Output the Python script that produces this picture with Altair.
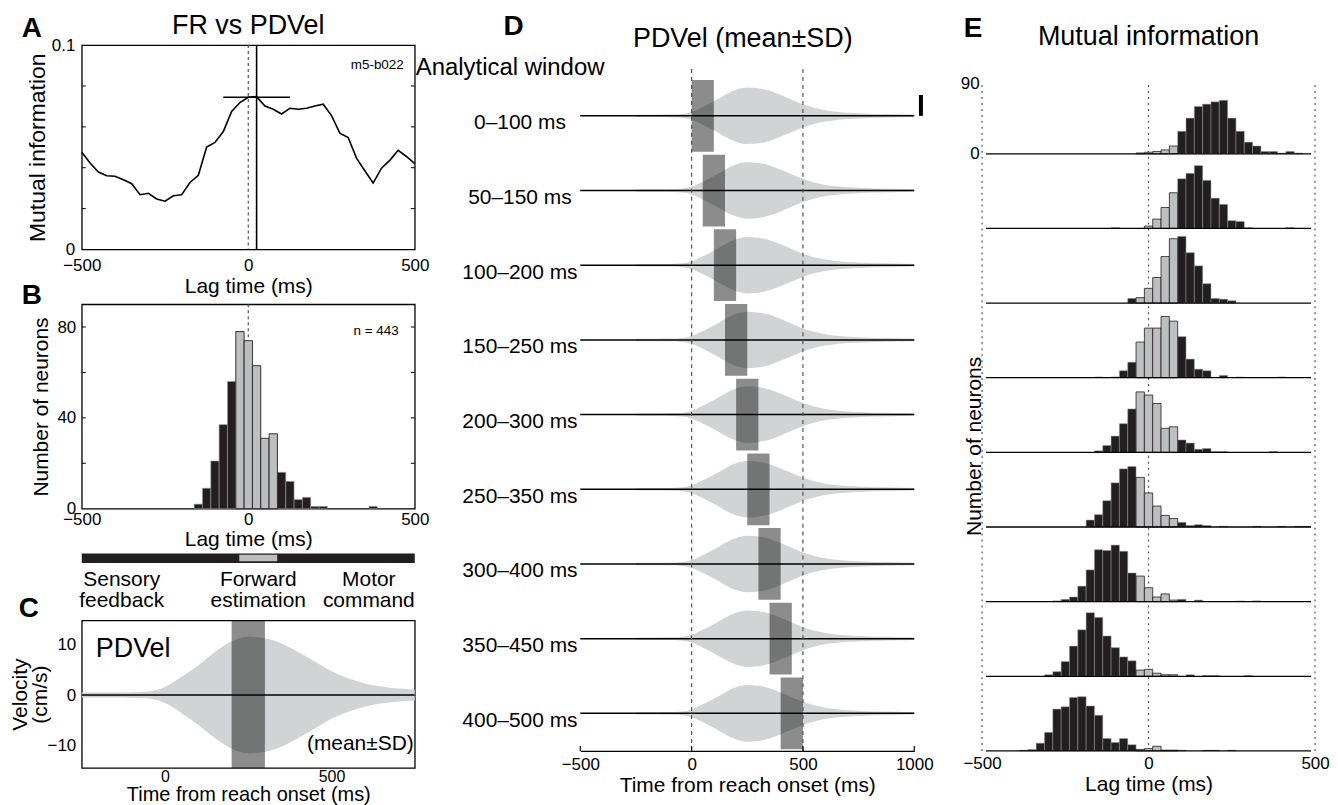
import altair as alt
import pandas as pd

FONT = "Liberation Sans"
BLACK = "#231f20"
GRAYBAR = "#bcbec0"
BAND = "#d1d3d4"

# ---------------- data ----------------
# Panel A: mutual information vs lag for one neuron
A_lag = [-500, -475, -450, -425, -400, -375, -350, -325, -300, -275, -250, -225, -200, -175,
         -150, -125, -100, -75, -50, -25, 0, 25, 50, 75, 100, 125, 150, 175, 200, 225, 250,
         275, 300, 325, 350, 375, 400, 425, 450, 475, 500]
A_mi = [0.0476, 0.0423, 0.0379, 0.0361, 0.0358, 0.0341, 0.0322, 0.0268, 0.0275, 0.0247, 0.0236,
        0.0263, 0.0268, 0.0328, 0.0363, 0.0501, 0.0524, 0.0577, 0.0675, 0.0719, 0.0745, 0.0748,
        0.0702, 0.0686, 0.0663, 0.0691, 0.0686, 0.0691, 0.0702, 0.0711, 0.0655, 0.0569, 0.0548,
        0.0447, 0.0385, 0.0325, 0.0398, 0.0436, 0.0485, 0.0455, 0.0420]
A_peak_lag = 25
A_peak_mi = 0.0745
A_err = [-75, 125]
A_yticks = [0.02, 0.04, 0.06, 0.08]

# Panel B: histogram of optimal lags (200-300 ms window)
B_centers = [-150, -125, -100, -75, -50, -25, 0, 25, 50, 75, 100, 125, 150, 175, 200, 225, 375]
B_counts = [2, 9, 21, 37, 56, 78, 74, 63, 31, 33, 16, 12, 4, 5, 1, 1, 1]
B_yticks = [20, 40, 60, 80]
FE_range = [-37.5, 87.5]      # forward-estimation lag range (gray bins)
BIN = 25

# Colour bar under B
CB_gray = [-27, 87]
CB_labels = [["Sensory", "feedback"], ["Forward", "estimation"], ["Motor", "command"]]

# Panel C / D: PDVel mean +/- SD envelope
SD_t = [-250, -200, -150, -100, -50, 0, 50, 100, 150, 200, 250, 300, 350, 400, 450, 500,
        550, 600, 650, 700, 750, 800, 850, 900, 950, 1000]
SD_v = [0.5, 0.5, 0.5, 0.55, 0.7, 1.6, 3.6, 5.9, 8.5, 10.6, 11.5, 11.2, 10.2, 8.5, 6.6, 4.7,
        3.3, 2.3, 1.7, 1.3, 1.1, 0.9, 0.8, 0.7, 0.6, 0.5]
C_window = [200, 300]

# Panel D: analytical windows
D_labels = ["0–100 ms", "50–150 ms", "100–200 ms", "150–250 ms", "200–300 ms",
            "250–350 ms", "300–400 ms", "350–450 ms", "400–500 ms"]
D_start = [0, 50, 100, 150, 200, 250, 300, 350, 400]
D_end = [100, 150, 200, 250, 300, 350, 400, 450, 500]
D_scalebar = 8.5   # cm/s

# Panel E: lag histograms per window (bin centre -> count)
E_rows = [
    {-25: 1, 0: 2, 25: 3, 50: 5, 75: 10, 100: 29, 125: 46, 150: 61, 175: 64, 200: 67, 225: 69,
     250: 46, 275: 29, 300: 15, 325: 10, 350: 3, 375: 3, 400: 1, 425: 3, 450: 1},
    {-100: 1, 0: 3, 25: 12, 50: 27, 75: 46, 100: 64, 125: 71, 150: 81, 175: 62, 200: 39, 225: 31,
     250: 10, 275: 9, 300: 1, 425: 1},
    {-50: 6, -25: 7, 0: 19, 25: 33, 50: 60, 75: 83, 100: 86, 125: 65, 150: 48, 175: 25, 200: 6,
     225: 5, 250: 3},
    {-150: 1, -100: 1, -75: 9, -50: 20, -25: 46, 0: 64, 25: 64, 50: 79, 75: 73, 100: 53, 125: 24,
     150: 11, 175: 9, 225: 3, 275: 1, 400: 1},
    dict(zip(B_centers, B_counts)),
    {-175: 9, -150: 16, -125: 34, -100: 57, -75: 75, -50: 78, -25: 64, 0: 44, 25: 27, 50: 15,
     75: 11, 100: 6, 125: 2, 150: 3, 175: 2, 225: 1, 325: 1, 400: 1, 450: 1, 475: 1},
    {-275: 1, -250: 3, -225: 6, -200: 20, -175: 41, -150: 67, -125: 66, -100: 73, -75: 65, -50: 37,
     -25: 33, 0: 18, 25: 6, 50: 10, 75: 2, 100: 3, 150: 2, 275: 1, 325: 1},
    {-300: 2, -275: 6, -250: 19, -225: 39, -200: 60, -175: 82, -150: 76, -125: 52, -100: 37,
     -75: 25, -50: 20, -25: 8, 0: 9, 25: 4, 50: 2, 75: 2, 125: 2, 175: 1, 200: 1, 300: 1},
    {-375: 1, -350: 2, -325: 10, -300: 24, -275: 54, -250: 57, -225: 69, -200: 70, -175: 58,
     -150: 46, -125: 16, -100: 11, -75: 16, -50: 8, -25: 2, 0: 3, 25: 6, 50: 1, 75: 1, 100: 1,
     175: 1, 200: 1, 250: 1},
]

# ---------------- layout constants ----------------
WL = 334
HA, HB, HCB, HC = 205, 205, 67, 148
WD, HD = 335, 708
WE, HE = 334, 708
D_ROW = 30.4
D_HALF = 14.6
D_DOM = [-258.5, 28.8]
E_ROW = 96.3
E_DOM = [0, 910.6]
E_TOP = 864.3


def ptext(txt, x, y, size, weight="normal", align="center"):
    return alt.Chart(pd.DataFrame({"t": [txt]})).mark_text(
        fontSize=size, fontWeight=weight, align=align, baseline="alphabetic", font=FONT,
        color="black").encode(x=alt.value(x), y=alt.value(y), text="t:N")


def is_gray(c):
    return FE_range[0] < c < FE_range[1]


# ---------------- Panel A ----------------
def xA(f):
    return alt.X(f, type="quantitative", scale=alt.Scale(domain=[-500, 500], nice=False, zero=False),
                 axis=alt.Axis(values=[-500, 0, 500], title="Lag time (ms)", ticks=False, domain=False,
                               labelPadding=8, titlePadding=2, labelFlush=False))


def yA(f):
    return alt.Y(f, type="quantitative", scale=alt.Scale(domain=[0, 0.1], nice=False, zero=False),
                 axis=alt.Axis(values=[0, 0.1], format="~g", title="Mutual information", ticks=False,
                               domain=False, labelPadding=7, titlePadding=2, titleFontSize=23))


dfA = pd.DataFrame({"lag": A_lag, "mi": A_mi})
a_zero = alt.Chart(pd.DataFrame({"lag": [0]})).mark_rule(
    color="#555", strokeDash=[3, 3], strokeWidth=1.2).encode(x=xA("lag"))
a_peak = alt.Chart(pd.DataFrame({"lag": [A_peak_lag]})).mark_rule(
    color="black", strokeWidth=1.6).encode(x=xA("lag"))
a_err = alt.Chart(pd.DataFrame({"lag": [A_err[0]], "lag2": [A_err[1]], "mi": [A_peak_mi]})).mark_rule(
    color="black", strokeWidth=1.5).encode(x=xA("lag"), x2=alt.X2("lag2"), y=yA("mi"))
a_line = alt.Chart(dfA).mark_line(color="black", strokeWidth=1.6).encode(x=xA("lag"), y=yA("mi"))
a_tk = pd.DataFrame({"mi": A_yticks * 2, "lag": [-500] * 4 + [500] * 4,
                     "lag2": [-488] * 4 + [488] * 4})
a_ticks = alt.Chart(a_tk).mark_rule(color="black", strokeWidth=1).encode(
    x=xA("lag"), x2=alt.X2("lag2"), y=yA("mi"))
a_txt = alt.Chart(pd.DataFrame({"lag": [467], "mi": [0.0884], "t": ["m5-b022"]})).mark_text(
    fontSize=13.5, align="right", baseline="alphabetic", font=FONT, color="black").encode(
    x=xA("lag"), y=yA("mi"), text="t:N")
A = alt.layer(a_zero, a_peak, a_err, a_line, a_ticks, a_txt,
              ptext("A", -50, -8, 28, "bold"), ptext("FR vs PDVel", 167, -11, 27)).properties(
    width=WL, height=HA, view=alt.ViewBackground(stroke="black", strokeWidth=1.3))

# ---------------- Panel B ----------------
def xB(f):
    return alt.X(f, type="quantitative", scale=alt.Scale(domain=[-500, 500], nice=False, zero=False),
                 axis=alt.Axis(values=[-500, 0, 500], title="Lag time (ms)", ticks=False, domain=False,
                               labelPadding=3, titlePadding=1, labelFlush=False))


def yB(f):
    return alt.Y(f, type="quantitative", scale=alt.Scale(domain=[0, 90], nice=False, zero=False),
                 axis=alt.Axis(values=[0, 40, 80], title="Number of neurons", ticks=False, domain=False,
                               labelPadding=6, titlePadding=5))


dfB = pd.DataFrame({"c": B_centers, "cnt": B_counts})
dfB["lo"] = dfB["c"] - BIN / 2
dfB["hi"] = dfB["c"] + BIN / 2
dfB["base"] = 0
dfB["gray"] = dfB["c"].apply(is_gray)
b_zero = alt.Chart(pd.DataFrame({"lo": [0]})).mark_rule(
    color="#555", strokeDash=[3, 3], strokeWidth=1.2).encode(x=xB("lo"))
b_black = alt.Chart(dfB[~dfB["gray"]]).mark_rect(fill=BLACK, stroke="#939598", strokeWidth=0.6).encode(
    x=xB("lo"), x2=alt.X2("hi"), y=yB("cnt"), y2=alt.Y2("base"))
b_gray = alt.Chart(dfB[dfB["gray"]]).mark_rect(fill=GRAYBAR, stroke=BLACK, strokeWidth=0.9).encode(
    x=xB("lo"), x2=alt.X2("hi"), y=yB("cnt"), y2=alt.Y2("base"))
b_tk = pd.DataFrame({"cnt": B_yticks * 2, "lo": [-500] * 4 + [500] * 4,
                     "hi": [-488] * 4 + [488] * 4})
b_ticks = alt.Chart(b_tk).mark_rule(color="black", strokeWidth=1).encode(
    x=xB("lo"), x2=alt.X2("hi"), y=yB("cnt"))
b_txt = alt.Chart(pd.DataFrame({"lo": [452], "cnt": [76.5], "t": ["n = 443"]})).mark_text(
    fontSize=13.5, align="right", baseline="alphabetic", font=FONT, color="black").encode(
    x=xB("lo"), y=yB("cnt"), text="t:N")
B = alt.layer(b_zero, b_black, b_gray, b_ticks, b_txt, ptext("B", -50, 0, 28, "bold")).properties(
    width=WL, height=HB, view=alt.ViewBackground(stroke="black", strokeWidth=1.3))

# ---------------- colour bar ----------------
xCB = alt.X("x:Q", scale=alt.Scale(domain=[-500, 500], nice=False, zero=False), axis=None)
yCB = alt.Y("y:Q", scale=alt.Scale(domain=[0, HCB], nice=False, zero=False), axis=None)
cb_black = alt.Chart(pd.DataFrame({"x": [-500], "x2": [500], "y": [57.5], "y2": [67]})).mark_rect(
    fill=BLACK).encode(x=xCB, x2=alt.X2("x2"), y=yCB, y2=alt.Y2("y2"))
cb_gray = alt.Chart(pd.DataFrame({"x": [CB_gray[0]], "x2": [CB_gray[1]], "y": [59.3], "y2": [65.7]})).mark_rect(
    fill=GRAYBAR).encode(x=xCB, x2=alt.X2("x2"), y=yCB, y2=alt.Y2("y2"))
cb_pos_x = [-380, 30, 362]
cb_pos_y = [34, 13]
cb_rows = []
for i, pair in enumerate(CB_labels):
    for j, w in enumerate(pair):
        cb_rows.append({"x": cb_pos_x[i], "y": cb_pos_y[j], "t": w})
cb_text = alt.Chart(pd.DataFrame(cb_rows)).mark_text(
    fontSize=21, font=FONT, color="black", baseline="alphabetic").encode(x=xCB, y=yCB, text="t:N")
CB = alt.layer(cb_black, cb_gray, cb_text).properties(
    width=WL, height=HCB, view=alt.ViewBackground(stroke=None))

# ---------------- Panel C ----------------
def xC(f):
    return alt.X(f, type="quantitative", scale=alt.Scale(domain=[-250, 750], nice=False, zero=False),
                 axis=alt.Axis(values=[0, 500], title="Time from reach onset (ms)", ticks=False,
                               domain=False, labelPadding=1, labelFontSize=16, titlePadding=0,
                               titleFontSize=20))


def yC(f):
    return alt.Y(f, type="quantitative", scale=alt.Scale(domain=[-14.4, 14.75], nice=False, zero=False),
                 axis=alt.Axis(values=[-10, 0, 10], title=["Velocity", "(cm/s)"], ticks=False,
                               domain=False, labelPadding=6, titlePadding=-3, titleLineHeight=20))


dfC = pd.DataFrame({"t": SD_t, "hi": SD_v})
dfC["lo"] = -dfC["hi"]
dfC = dfC[dfC["t"] <= 750]
c_band = alt.Chart(dfC).mark_area(color=BAND, interpolate="monotone").encode(
    x=xC("t"), y=yC("hi"), y2=alt.Y2("lo"))
c_rect = alt.Chart(pd.DataFrame({"t": [C_window[0]], "t2": [C_window[1]]})).mark_rect(
    color="black", opacity=0.45).encode(x=xC("t"), x2=alt.X2("t2"))
c_mean = alt.Chart(pd.DataFrame({"hi": [0]})).mark_rule(color="black", strokeWidth=1.5).encode(y=yC("hi"))
c_t1 = alt.Chart(pd.DataFrame({"t": [-208], "hi": [7.5], "s": ["PDVel"]})).mark_text(
    fontSize=27, align="left", baseline="alphabetic", font=FONT, color="black").encode(
    x=xC("t"), y=yC("hi"), text="s:N")
c_t2 = alt.Chart(pd.DataFrame({"t": [747], "hi": [-10.8], "s": ["(mean±SD)"]})).mark_text(
    fontSize=21, align="right", baseline="alphabetic", font=FONT, color="black").encode(
    x=xC("t"), y=yC("hi"), text="s:N")
C = alt.layer(c_band, c_rect, c_mean, c_t1, c_t2, ptext("C", -53, -3, 28, "bold")).properties(
    width=WL, height=HC, view=alt.ViewBackground(stroke="black", strokeWidth=1.3))


def spacer(h):
    return alt.Chart(pd.DataFrame({"s": [0]})).mark_point(opacity=0).encode(
        x=alt.X("s:Q", axis=None), y=alt.Y("s:Q", axis=None)).properties(
        width=WL, height=h, view=alt.ViewBackground(stroke=None))


left = alt.vconcat(A, spacer(55), B, spacer(45), CB, C, spacing=0, bounds="flush")

# ---------------- Panel D ----------------
label_arr = "[" + ",".join("'" + s + "'" for s in D_labels) + "]"


def xD(f):
    return alt.X(f, type="quantitative", scale=alt.Scale(domain=[-500, 1000], nice=False, zero=False),
                 axis=alt.Axis(values=[-500, 0, 500, 1000], format="d", title="Time from reach onset (ms)",
                               ticks=False, domain=True, domainColor="black", domainWidth=1.3,
                               labelPadding=6, titlePadding=2, labelFlush=False))


def yD(f):
    return alt.Y(f, type="quantitative", scale=alt.Scale(domain=D_DOM, nice=False, zero=False),
                 axis=alt.Axis(values=[-k * D_ROW for k in range(9)],
                               labelExpr=label_arr + "[round(-datum.value/" + str(D_ROW) + ")]",
                               domain=False, ticks=False, title=None, labelAlign="center",
                               labelPadding=61, labelOffset=7, labelFontSize=21))


vrows = []
for k in range(9):
    for t, s in zip(SD_t, SD_v):
        vrows.append({"row": k, "t": t, "y": -k * D_ROW + s, "y2": -k * D_ROW - s})
d_viol = alt.Chart(pd.DataFrame(vrows)).mark_area(color=BAND, interpolate="monotone").encode(
    x=xD("t"), y=yD("y"), y2=alt.Y2("y2"), detail="row:N")
dfDr = pd.DataFrame({"t": D_start, "t2": D_end,
                     "y": [-k * D_ROW - D_HALF for k in range(9)],
                     "y2": [-k * D_ROW + D_HALF for k in range(9)]})
d_rect = alt.Chart(dfDr).mark_rect(color="black", opacity=0.45).encode(
    x=xD("t"), x2=alt.X2("t2"), y=yD("y"), y2=alt.Y2("y2"))
dfDl = pd.DataFrame({"t": [-500] * 9, "t2": [1000] * 9, "y": [-k * D_ROW for k in range(9)]})
d_lines = alt.Chart(dfDl).mark_rule(color="black", strokeWidth=1.5).encode(
    x=xD("t"), x2=alt.X2("t2"), y=yD("y"))
d_dash = alt.Chart(pd.DataFrame({"t": [0, 500], "y": [D_DOM[0]] * 2, "y2": [20.7] * 2})).mark_rule(
    color="#555", strokeDash=[4, 4], strokeWidth=1.2).encode(x=xD("t"), y=yD("y"), y2=alt.Y2("y2"))
d_bar = alt.Chart(pd.DataFrame({"t": [1030], "y": [0], "y2": [D_scalebar]})).mark_rule(
    color="black", strokeWidth=4).encode(x=xD("t"), y=yD("y"), y2=alt.Y2("y2"))
d_tk = alt.Chart(pd.DataFrame({"t": [-500, 0, 500, 1000], "y": [D_DOM[0]] * 4,
                               "y2": [D_DOM[0] + 2] * 4})).mark_rule(color="black", strokeWidth=1.2).encode(
    x=xD("t"), y=yD("y"), y2=alt.Y2("y2"))
D = alt.layer(d_viol, d_rect, d_lines, d_dash, d_bar, d_tk,
              ptext("D", -67, -10, 28, "bold"), ptext("PDVel (mean±SD)", 163, 2, 27),
              ptext("Analytical window", -165, 30, 24, align="left")).properties(
    width=WD, height=HD, view=alt.ViewBackground(stroke=None))

# ---------------- Panel E ----------------
def xE(f):
    return alt.X(f, type="quantitative", scale=alt.Scale(domain=[-500, 500], nice=False, zero=False),
                 axis=alt.Axis(values=[-500, 0, 500], title="Lag time (ms)", ticks=False, domain=False,
                               labelPadding=5, titlePadding=2, labelFlush=False))


def yE(f):
    return alt.Y(f, type="quantitative", scale=alt.Scale(domain=E_DOM, nice=False, zero=False),
                 axis=alt.Axis(values=[8 * E_ROW, 8 * E_ROW + 90],
                               labelExpr="datum.value > " + str(8 * E_ROW + 45) + " ? '90' : '0'",
                               domain=False, ticks=False, labelPadding=3, title="Number of neurons",
                               titleY=402, titleX=-8, titleBaseline="middle"))


erows = []
for k, row in enumerate(E_rows):
    off = (8 - k) * E_ROW
    for c, n in row.items():
        erows.append({"row": k, "lo": c - BIN / 2, "hi": c + BIN / 2, "top": off + n, "base": off,
                      "gray": is_gray(c)})
dfE = pd.DataFrame(erows)
e_black = alt.Chart(dfE[~dfE["gray"]]).mark_rect(fill=BLACK, stroke="#939598", strokeWidth=0.5).encode(
    x=xE("lo"), x2=alt.X2("hi"), y=yE("top"), y2=alt.Y2("base"))
e_gray = alt.Chart(dfE[dfE["gray"]]).mark_rect(fill=GRAYBAR, stroke=BLACK, strokeWidth=0.8).encode(
    x=xE("lo"), x2=alt.X2("hi"), y=yE("top"), y2=alt.Y2("base"))
e_dot = alt.Chart(pd.DataFrame({"lo": [-500, 0, 500], "top": [0] * 3, "base": [E_TOP] * 3})).mark_rule(
    color="#555", strokeDash=[2, 4], strokeWidth=1.2).encode(x=xE("lo"), y=yE("top"), y2=alt.Y2("base"))
e_base = alt.Chart(pd.DataFrame({"lo": [-488] * 9, "hi": [488] * 9,
                                 "top": [(8 - k) * E_ROW for k in range(9)]})).mark_rule(
    color="black", strokeWidth=1.3).encode(x=xE("lo"), x2=alt.X2("hi"), y=yE("top"))
E = alt.layer(e_dot, e_black, e_gray, e_base,
              ptext("E", -9, -8, 28, "bold"), ptext("Mutual information", 167, 0, 27)).properties(
    width=WE, height=HE, view=alt.ViewBackground(stroke=None))

right = alt.hconcat(D, E, spacing=27)
chart = alt.hconcat(left, right, spacing=-14).properties(
    padding={"left": 0, "top": 2, "right": 0, "bottom": 0}).configure(
    font=FONT).configure_axis(
    labelFont=FONT, titleFont=FONT, labelFontSize=17, titleFontSize=21, titleFontWeight="normal",
    labelColor="black", titleColor="black", grid=False, domainColor="black", tickColor="black"
).configure_view(stroke=None)

chart.save("out.html", embed_options={"renderer": "svg", "actions": False})
